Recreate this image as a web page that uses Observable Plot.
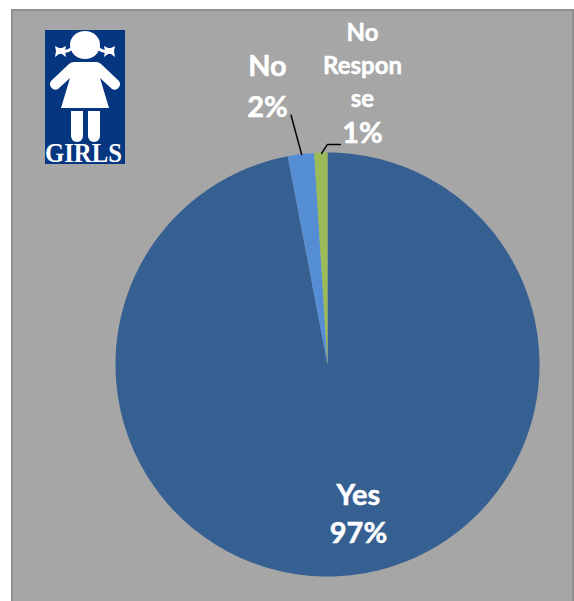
<!DOCTYPE html>
<html>
<head>
<meta charset="utf-8">
<script src="https://cdn.jsdelivr.net/npm/d3@7"></script>
<script src="https://cdn.jsdelivr.net/npm/@observablehq/plot@0.6"></script>
<style>
  html, body { margin: 0; padding: 0; background: #fff; overflow: hidden; }
  #panel { position: absolute; left: 11px; top: 9px; width: 559px; height: 600px;
           background: #a6a6a6; border: 2px solid #8f8f8f; }
  #chart { position: absolute; left: 0; top: 0; }
  #chart svg { background: transparent; display: block; }
</style>
</head>
<body>
<div id="panel"></div>
<div id="chart"></div>
<script>
// Survey answers, clockwise from twelve o'clock
const answers = ["Yes", "No", "No Response"];
const shares = [97, 2, 1];
const sliceColors = ["#376092", "#558ed5", "#9bbb59"];

// Label rows in pie-radius units from the centre
const labelRows = [
  {text: "Yes", x: 0.146, y: -0.617, size: 29},
  {text: "97%", x: 0.146, y: -0.799, size: 29},
  {text: "No", x: -0.283, y: 1.404, size: 29},
  {text: "2%", x: -0.283, y: 1.21, size: 29},
  {text: "No", x: 0.165, y: 1.561, size: 24},
  {text: "Respon", x: 0.165, y: 1.405, size: 24},
  {text: "se", x: 0.165, y: 1.25, size: 24},
  {text: "1%", x: 0.165, y: 1.089, size: 29}
];

// Leader lines from the small slices to their labels
const leaders = [
  {id: "No", x: -0.172, y: 1.176},
  {id: "No", x: -0.122, y: 0.991},
  {id: "No Response", x: -0.028, y: 0.996},
  {id: "No Response", x: 0, y: 1.038},
  {id: "No Response", x: 0.061, y: 1.038}
];

// Turn each share into a closed wedge outline
const arcs = d3.pie().sort(null).value((d, i) => shares[i])(answers);
const wedgePoints = arcs.flatMap(a => {
  const steps = Math.max(2, Math.ceil((a.endAngle - a.startAngle) * 60));
  const rim = d3.range(steps + 1).map(i => {
    const t = a.startAngle + (a.endAngle - a.startAngle) * i / steps;
    return {answer: a.data, x: Math.sin(t), y: Math.cos(t)};
  });
  return [{answer: a.data, x: 0, y: 0}, ...rim];
});

// The girl pictogram in the corner of the panel
function girlsBadge() {
  const ns = "http://www.w3.org/2000/svg";
  const g = document.createElementNS(ns, "g");
  g.innerHTML = `
    <rect x="45" y="30" width="80" height="134" fill="#06367f"/>
    <g fill="#fff" stroke="none">
      <ellipse cx="85" cy="45" rx="15" ry="14"/>
      <path d="M74 62 L96 62 Q99 62 101 64 L119 81 A5.5 5.5 0 0 1 112 89 L100 78 L109 108 L61 108 L70 78 L58 89 A5.5 5.5 0 0 1 51 81 L69 64 Q71 62 74 62 Z"/>
      <path d="M71 111 H83 V136 A6 6 0 0 1 71 136 Z"/>
      <path d="M88 111 H100 V136 A6 6 0 0 1 88 136 Z"/>
      <path d="M55 46 L59 48 L62 48 L66 46 L65 51 L66 57 L62 54 L59 54 L55 57 L56 51 Z"/>
      <path d="M104 46 L108 48 L111 48 L115 46 L114 51 L115 57 L111 54 L108 54 L104 57 L105 51 Z"/>
    </g>
    <path d="M64 51 Q68 52 72 48" fill="none" stroke="#fff" stroke-width="3"/>
    <path d="M106 51 Q102 52 98 48" fill="none" stroke="#fff" stroke-width="3"/>
    <text x="45" y="161.5" text-anchor="start" textLength="77" lengthAdjust="spacingAndGlyphs" fill="#fff"
      font-family="'Liberation Serif', serif" font-weight="700" font-size="27">GIRLS</text>`;
  return g;
}

const radius = 212;
const chart = Plot.plot({
  width: 574,
  height: 601,
  margin: 0,
  x: {axis: null, domain: [-327 / radius, 247 / radius], range: [0, 574]},
  y: {axis: null, domain: [-237 / radius, 364 / radius], range: [601, 0]},
  color: {domain: answers, range: sliceColors},
  marks: [
    Plot.line(wedgePoints, {x: "x", y: "y", z: "answer", fill: "answer", stroke: null, curve: "linear-closed"}),
    Plot.line(leaders, {x: "x", y: "y", z: "id", stroke: "#000", strokeWidth: 1.5}),
    Plot.text(labelRows, {
      x: "x", y: "y", text: "text", fontSize: "size",
      fill: "#fff", stroke: "#fff", strokeWidth: 0.5, fontWeight: 700, fontFamily: "Lato, sans-serif"
    }),
    girlsBadge
  ]
});
document.getElementById("chart").append(chart);
</script>
</body>
</html>
